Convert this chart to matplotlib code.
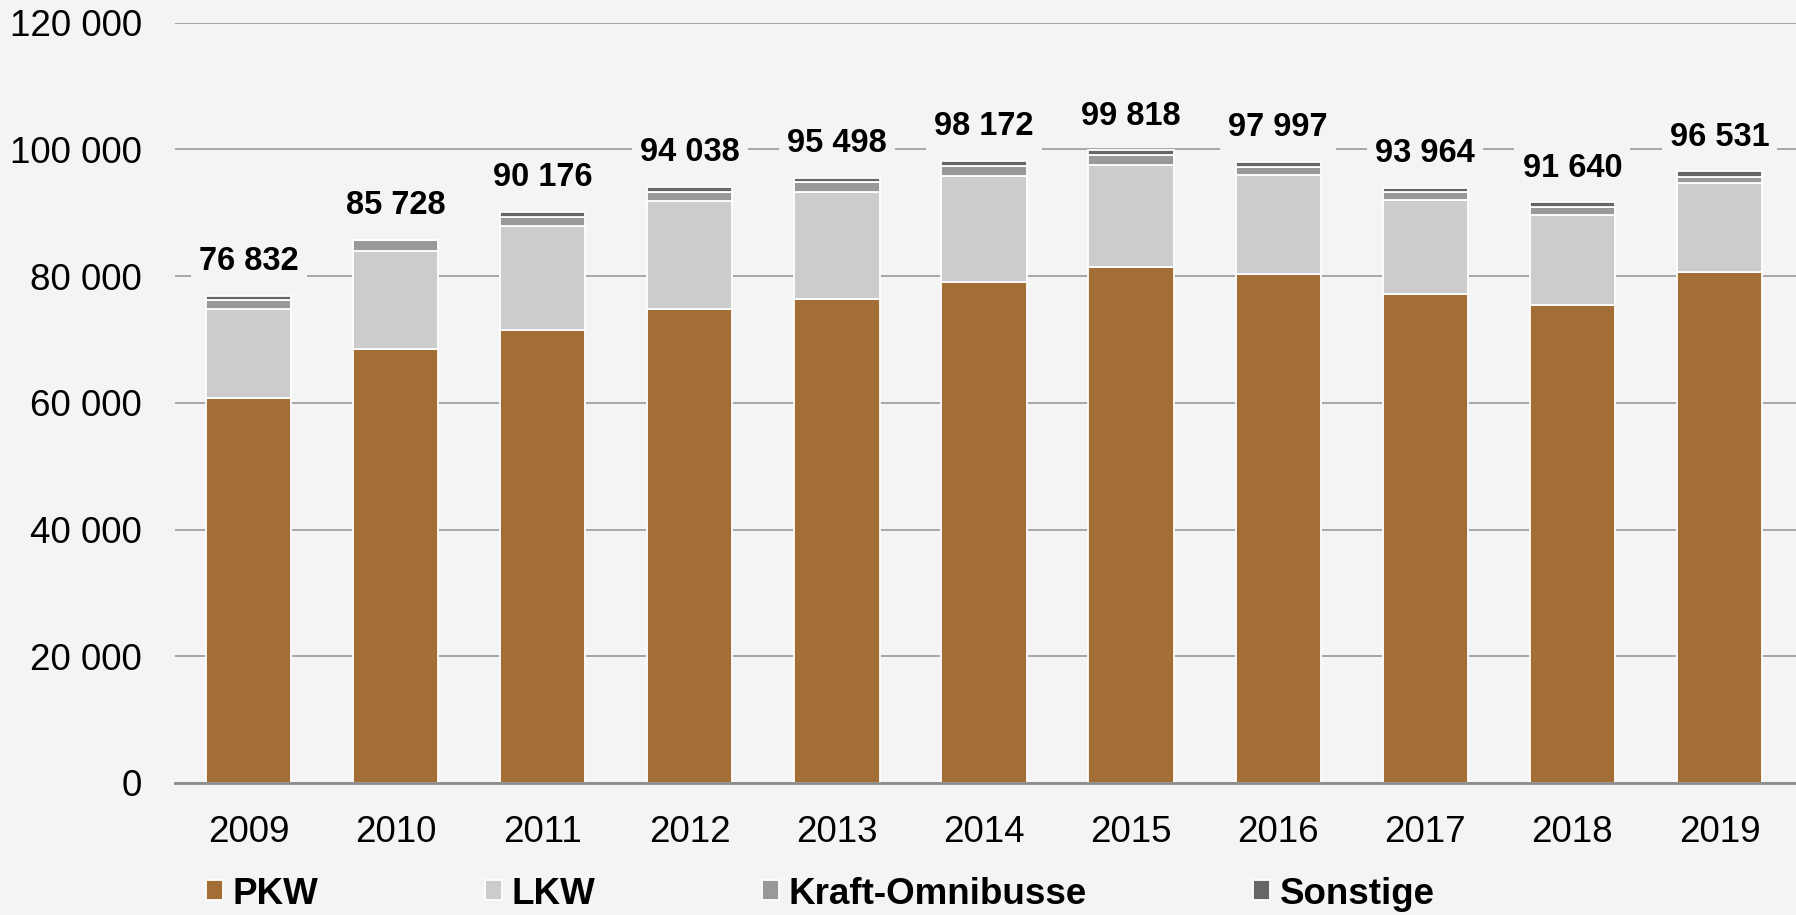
import matplotlib.pyplot as plt
import numpy as np

years = ["2009", "2010", "2011", "2012", "2013", "2014", "2015", "2016", "2017", "2018", "2019"]
pkw = [60700, 68480, 71480, 74840, 76320, 79050, 81420, 80320, 77160, 75420, 80680]
lkw = [14040, 15420, 16460, 16950, 16940, 16730, 16100, 15580, 14840, 14250, 13950]
omnibus = [1470, 1750, 1420, 1470, 1530, 1580, 1530, 1360, 1260, 1170, 1050]
sonstige = [622, 78, 816, 778, 708, 812, 768, 737, 704, 800, 851]
totals = [76832, 85728, 90176, 94038, 95498, 98172, 99818, 97997, 93964, 91640, 96531]

bg = "#F4F4F4"
plt.rcParams['font.family'] = ['Liberation Sans', 'DejaVu Sans']

fig = plt.figure(figsize=(17.96, 9.15), dpi=100, facecolor=bg)
ax = fig.add_axes([175 / 1796, 1 - 783 / 915, 1 - 175 / 1796, (783 - 22.6) / 915])
ax.set_facecolor(bg)

x = np.arange(len(years))
w = 0.58
bottom = np.zeros(len(years))
series = [("PKW", pkw, "#A36D36"), ("LKW", lkw, "#CCCCCC"),
          ("Kraft-Omnibusse", omnibus, "#999999"), ("Sonstige", sonstige, "#666666")]
for name, vals, col in series:
    ax.bar(x, vals, w, bottom=bottom, color=col, edgecolor="white", linewidth=1.3,
           label=name, zorder=3)
    bottom += np.array(vals)

for xi, t in zip(x, totals):
    ax.annotate(f"{t:,}".replace(",", " "), (xi, t), xytext=(0, 18.5),
                textcoords="offset points", ha="center", va="baseline",
                fontsize=23.5, fontweight="bold", zorder=5,
                bbox=dict(boxstyle="square,pad=0.25", fc=bg, ec="none"))

ax.set_ylim(0, 120000)
ax.set_xlim(-0.5, 10.52)
ax.set_yticks(range(0, 120001, 20000))
ax.set_yticklabels([f"{v:,}".replace(",", " ") for v in range(0, 120001, 20000)])
ax.set_xticks(x)
ax.set_xticklabels(years)
ax.tick_params(axis="both", length=0, labelsize=26.5)
ax.tick_params(axis="y", pad=24)
ax.tick_params(axis="x", pad=23)
ax.grid(axis="y", color="#A0A0A0", linewidth=1.3, zorder=0)
for s in ["top", "right", "left"]:
    ax.spines[s].set_visible(False)
ax.spines["bottom"].set_color("#8C8C8C")
ax.spines["bottom"].set_linewidth(2)
ax.spines["bottom"].set_zorder(4)

fig.legend(loc="center left", bbox_to_anchor=(206 / 1796, 1 - 894 / 915), ncol=4,
           frameon=False, prop=dict(size=26.5, weight="bold"), handlelength=0.45,
           handleheight=0.45, handletextpad=0.28, columnspacing=4.52,
           borderpad=0, borderaxespad=0)

fig.savefig("out.png", dpi=100, facecolor=bg)
